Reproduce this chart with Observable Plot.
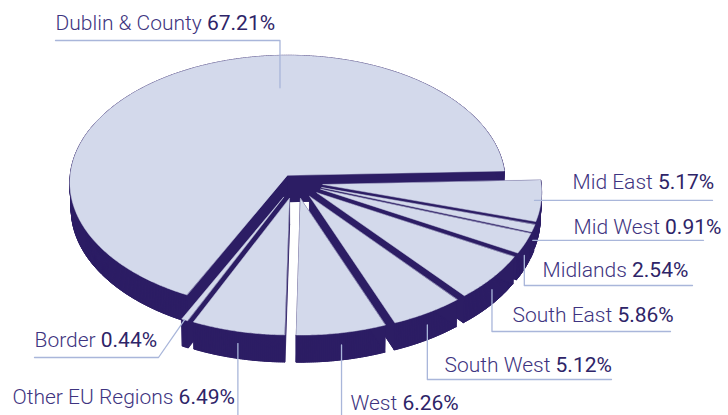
<!DOCTYPE html>
<html><head><meta charset="utf-8">
<script src="https://cdn.jsdelivr.net/npm/d3@7"></script>
<script src="https://cdn.jsdelivr.net/npm/@observablehq/plot@0.6"></script>
<style>body{margin:0;background:#fff;overflow:hidden}</style>
</head><body><div id="chart"></div>
<script>
// ---- data ----
const regions = ["Dublin & County","Mid East","Mid West","Midlands","South East","South West","West","Other EU Regions","Border"];
const shares  = [67.21, 5.17, 0.91, 2.54, 5.86, 5.12, 6.26, 6.49, 0.44];
const valueLabels = ["67.21%","5.17%","0.91%","2.54%","5.86%","5.12%","6.26%","6.49%","0.44%"];

// ---- label layout (annotation placement) ----
const labelTextX = [55, 572, 573, 542, 512, 444, 350, 12, 34];
const labelTextY = [29, 188, 233, 276, 321, 371, 409, 403, 346];
const leaderLineY = [40, null, null, 285, 331, 379, 415, 415, 357];
const leaderEndX  = [55, 712, 703, 692, 670, 611, null, null, 34];
const leaderElbowX = [null, null, null, null, null, null, null, null, 158];
// anchor on slice: [angle (null = bisector), radius fraction, depth fraction]
const leaderAnchor = [[93,0.72,0],[null,0.97,0],[null,1,0.45],[null,1,0.45],[null,1,0.45],[null,1,0.45],[null,1,0.45],[null,1,0.45],[null,1,0]];

// ---- view / style ----
const W = 728, H = 415;
const A = 218, CX = 295, CY = 182, sinP = 0.584, Dn = 15, thick = 0.15;
const startDeg = 2, explodeMain = 0.067, explodeRest = 0.127;
const cosP = Math.sqrt(1 - sinP*sinP);
const LIGHT = "#d3d9eb", DARK = "#2c1d64", LEADER = "#a9b6da";
const NAME_COLOR = "#3e3480", VALUE_COLOR = "#2e2468";
const FONT = "Roboto", FS = 21;
const deg = Math.PI/180;

function proj(X, Y, Z) {
  const w = 1 + (Y*cosP - Z*sinP)/Dn;
  return [CX + A*X/w, CY - A*(Y*sinP + Z*cosP)/w];
}

// slices
const slices = [];
let cum = 0;
regions.forEach((name, i) => {
  let a0, a1;
  if (i === 0) { a0 = startDeg; a1 = startDeg + 3.6*shares[0]; }
  else { a1 = startDeg - 3.6*cum; a0 = a1 - 3.6*shares[i]; cum += shares[i]; }
  const mid = (a0 + a1)/2;
  const e = i === 0 ? explodeMain : explodeRest;
  slices.push({name, i, a0, a1, mid, ox: e*Math.cos(mid*deg), oy: e*Math.sin(mid*deg)});
});

function ring(s) {
  const n = Math.max(2, Math.ceil((s.a1 - s.a0)/0.5));
  const pts = [[s.ox, s.oy]];
  for (let k = 0; k <= n; k++) {
    const t = (s.a0 + (s.a1 - s.a0)*k/n)*deg;
    pts.push([s.ox + Math.cos(t), s.oy + Math.sin(t)]);
  }
  return pts;
}

const marks = [];
const order = slices.slice().sort((a, b) => Math.sin(b.mid*deg) - Math.sin(a.mid*deg));
for (const s of order) {
  const pts = ring(s);
  const dark = [];
  pts.forEach(([X, Y]) => { const [x, y] = proj(X, Y, -thick); dark.push({x, y, k: "b"}); });
  for (let k = 0; k < pts.length; k++) {
    const p = pts[k], q = pts[(k+1) % pts.length];
    const quad = [proj(p[0],p[1],0), proj(q[0],q[1],0), proj(q[0],q[1],-thick), proj(p[0],p[1],-thick)];
    quad.forEach(([x, y]) => dark.push({x, y, k: "q"+k}));
  }
  const top = pts.map(([X, Y]) => { const [x, y] = proj(X, Y, 0); return {x, y, k: "t"}; });
  marks.push(Plot.line(dark, {x: "x", y: "y", z: "k", fill: DARK, stroke: DARK, strokeWidth: 0.8, curve: "linear-closed"}));
  marks.push(Plot.line(top, {x: "x", y: "y", z: "k", fill: LIGHT, stroke: LIGHT, strokeWidth: 0.5, curve: "linear-closed"}));
}

// leaders
const leaders = [];
slices.forEach((s, i) => {
  const [ang, r, zf] = leaderAnchor[i];
  const t = (ang == null ? s.mid : ang)*deg;
  const [ax, ay] = proj(s.ox + r*Math.cos(t), s.oy + r*Math.sin(t), -zf*thick);
  const ly = leaderLineY[i] == null ? ay : leaderLineY[i];
  const ex = leaderElbowX[i] == null ? ax : leaderElbowX[i];
  leaders.push({x: ax, y: ay, k: i});
  leaders.push({x: ex, y: ly, k: i});
  if (leaderEndX[i] != null) leaders.push({x: leaderEndX[i], y: ly, k: i});
});
marks.push(Plot.line(leaders, {x: "x", y: "y", z: "k", stroke: LEADER, strokeWidth: 1.3}));

// labels
const ctx = document.createElement("canvas").getContext("2d");
ctx.font = `300 ${FS}px ${FONT}`;
const names = regions.map((n, i) => ({x: labelTextX[i], y: labelTextY[i], text: n}));
const vals = regions.map((n, i) => ({x: labelTextX[i] + ctx.measureText(n + " ").width, y: labelTextY[i], text: valueLabels[i]}));
marks.push(Plot.text(names, {x: "x", y: "y", text: "text", textAnchor: "start", lineAnchor: "bottom", fontSize: FS, fontFamily: FONT, fontWeight: 300, fill: NAME_COLOR}));
marks.push(Plot.text(vals, {x: "x", y: "y", text: "text", textAnchor: "start", lineAnchor: "bottom", fontSize: FS, fontFamily: FONT, fontWeight: 400, fill: VALUE_COLOR}));

const chart = Plot.plot({
  width: W, height: H, margin: 0,
  x: {domain: [0, W], range: [0, W], axis: null},
  y: {domain: [0, H], range: [0, H], axis: null},
  style: {background: "#fff"},
  marks
});
document.getElementById("chart").appendChild(chart);
</script>
</body></html>
